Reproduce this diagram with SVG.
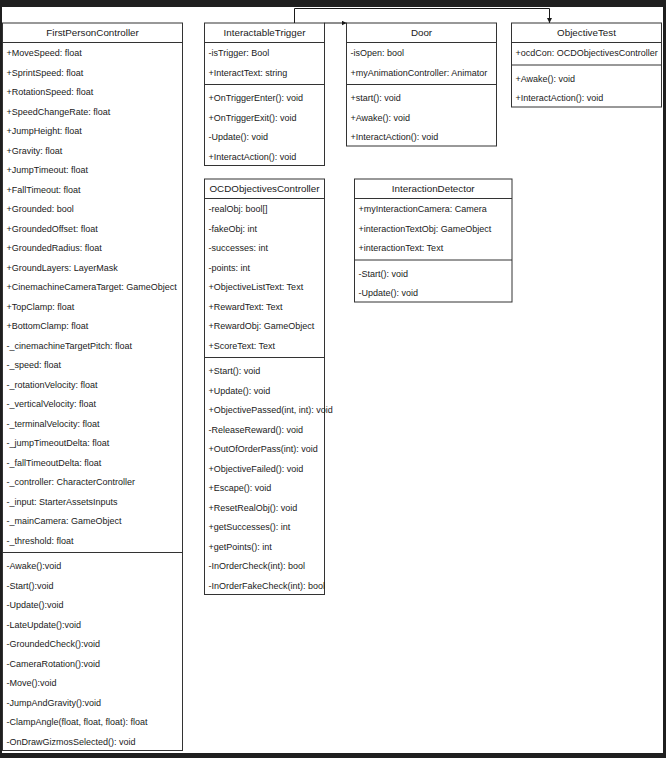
<svg xmlns="http://www.w3.org/2000/svg" width="666" height="758" viewBox="0 0 666 758">
  <style>
    .box { fill: #ffffff; stroke: #333333; stroke-width: 1; }
    .sep { stroke: #333333; stroke-width: 1; }
    .title { font-family: "Liberation Sans", Arial, sans-serif; font-size: 9.8px; fill: #1a1a1a; text-anchor: middle; }
    .row { font-family: "Liberation Sans", Arial, sans-serif; font-size: 9px; fill: #1a1a1a; }
    .edge { fill: none; stroke: #1a1a1a; stroke-width: 1; }
  </style>
  <defs>
    <marker id="arrow" viewBox="0 0 10 10" refX="10" refY="5" markerWidth="5" markerHeight="5" markerUnits="userSpaceOnUse" orient="auto">
      <path d="M0,0 L10,5 L0,10 Z" fill="#1a1a1a"/>
    </marker>
  </defs>

  <!-- canvas frame -->
  <rect x="0" y="0" width="666" height="758" fill="#1f1f1f"/>
  <rect x="2" y="7" width="661" height="746" fill="#ffffff"/>

  <!-- FirstPersonController -->
  <g id="FirstPersonController">
    <rect class="box" x="2.5" y="23" width="180" height="727.5"/>
    <line class="sep" x1="2.5" y1="42.5" x2="182.5" y2="42.5"/>
    <line class="sep" x1="2.5" y1="552.5" x2="182.5" y2="552.5"/>
    <text class="title" x="92.5" y="36.3">FirstPersonController</text>
    <text class="row" x="6.5" y="36.5">
      <tspan x="6.5" dy="19.5">+MoveSpeed: float</tspan>
      <tspan x="6.5" dy="19.5">+SprintSpeed: float</tspan>
      <tspan x="6.5" dy="19.5">+RotationSpeed: float</tspan>
      <tspan x="6.5" dy="19.5">+SpeedChangeRate: float</tspan>
      <tspan x="6.5" dy="19.5">+JumpHeight: float</tspan>
      <tspan x="6.5" dy="19.5">+Gravity: float</tspan>
      <tspan x="6.5" dy="19.5">+JumpTimeout: float</tspan>
      <tspan x="6.5" dy="19.5">+FallTimeout: float</tspan>
      <tspan x="6.5" dy="19.5">+Grounded: bool</tspan>
      <tspan x="6.5" dy="19.5">+GroundedOffset: float</tspan>
      <tspan x="6.5" dy="19.5">+GroundedRadius: float</tspan>
      <tspan x="6.5" dy="19.5">+GroundLayers: LayerMask</tspan>
      <tspan x="6.5" dy="19.5">+CinemachineCameraTarget: GameObject</tspan>
      <tspan x="6.5" dy="19.5">+TopClamp: float</tspan>
      <tspan x="6.5" dy="19.5">+BottomClamp: float</tspan>
      <tspan x="6.5" dy="19.5">-_cinemachineTargetPitch: float</tspan>
      <tspan x="6.5" dy="19.5">-_speed: float</tspan>
      <tspan x="6.5" dy="19.5">-_rotationVelocity: float</tspan>
      <tspan x="6.5" dy="19.5">-_verticalVelocity: float</tspan>
      <tspan x="6.5" dy="19.5">-_terminalVelocity: float</tspan>
      <tspan x="6.5" dy="19.5">-_jumpTimeoutDelta: float</tspan>
      <tspan x="6.5" dy="19.5">-_fallTimeoutDelta: float</tspan>
      <tspan x="6.5" dy="19.5">-_controller: CharacterController</tspan>
      <tspan x="6.5" dy="19.5">-_input: StarterAssetsInputs</tspan>
      <tspan x="6.5" dy="19.5">-_mainCamera: GameObject</tspan>
      <tspan x="6.5" dy="19.5">-_threshold: float</tspan>
    </text>
    <text class="row" x="6.5" y="549.5">
      <tspan x="6.5" dy="19.5">-Awake():void</tspan>
      <tspan x="6.5" dy="19.5">-Start():void</tspan>
      <tspan x="6.5" dy="19.5">-Update():void</tspan>
      <tspan x="6.5" dy="19.5">-LateUpdate():void</tspan>
      <tspan x="6.5" dy="19.5">-GroundedCheck():void</tspan>
      <tspan x="6.5" dy="19.5">-CameraRotation():void</tspan>
      <tspan x="6.5" dy="19.5">-Move():void</tspan>
      <tspan x="6.5" dy="19.5">-JumpAndGravity():void</tspan>
      <tspan x="6.5" dy="19.5">-ClampAngle(float, float, float): float</tspan>
      <tspan x="6.5" dy="19.5">-OnDrawGizmosSelected(): void</tspan>
    </text>
  </g>

  <!-- InteractableTrigger -->
  <g id="InteractableTrigger">
    <rect class="box" x="204.5" y="23" width="120" height="142.5"/>
    <line class="sep" x1="204.5" y1="42.5" x2="324.5" y2="42.5"/>
    <line class="sep" x1="204.5" y1="84.5" x2="324.5" y2="84.5"/>
    <text class="title" x="264.5" y="36.3">InteractableTrigger</text>
    <text class="row" x="208.5" y="36.5">
      <tspan x="208.5" dy="19.5">-isTrigger: Bool</tspan>
      <tspan x="208.5" dy="19.5">+InteractText: string</tspan>
    </text>
    <text class="row" x="208.5" y="81.5">
      <tspan x="208.5" dy="19.5">+OnTriggerEnter(): void</tspan>
      <tspan x="208.5" dy="19.5">+OnTriggerExit(): void</tspan>
      <tspan x="208.5" dy="19.5">-Update(): void</tspan>
      <tspan x="208.5" dy="19.5">+InteractAction(): void</tspan>
    </text>
  </g>

  <!-- Door -->
  <g id="Door">
    <rect class="box" x="346.5" y="23" width="150" height="123"/>
    <line class="sep" x1="346.5" y1="42.5" x2="496.5" y2="42.5"/>
    <line class="sep" x1="346.5" y1="84.5" x2="496.5" y2="84.5"/>
    <text class="title" x="421.5" y="36.3">Door</text>
    <text class="row" x="350.5" y="36.5">
      <tspan x="350.5" dy="19.5">-isOpen: bool</tspan>
      <tspan x="350.5" dy="19.5">+myAnimationController: Animator</tspan>
    </text>
    <text class="row" x="350.5" y="81.5">
      <tspan x="350.5" dy="19.5">+start(): void</tspan>
      <tspan x="350.5" dy="19.5">+Awake(): void</tspan>
      <tspan x="350.5" dy="19.5">+InteractAction(): void</tspan>
    </text>
  </g>

  <!-- ObjectiveTest -->
  <g id="ObjectiveTest">
    <rect class="box" x="511.5" y="23" width="150" height="84"/>
    <line class="sep" x1="511.5" y1="42.5" x2="661.5" y2="42.5"/>
    <line class="sep" x1="511.5" y1="65" x2="661.5" y2="65"/>
    <text class="title" x="586.5" y="36.3">ObjectiveTest</text>
    <text class="row" x="515.5" y="56">+ocdCon: OCDObjectivesController</text>
    <text class="row" x="515.5" y="62">
      <tspan x="515.5" dy="19.5">+Awake(): void</tspan>
      <tspan x="515.5" dy="19.5">+InteractAction(): void</tspan>
    </text>
  </g>

  <!-- OCDObjectivesController -->
  <g id="OCDObjectivesController">
    <rect class="box" x="204.5" y="179" width="120" height="415.5"/>
    <line class="sep" x1="204.5" y1="198.5" x2="324.5" y2="198.5"/>
    <line class="sep" x1="204.5" y1="357.5" x2="324.5" y2="357.5"/>
    <text class="title" x="264.5" y="192.3">OCDObjectivesController</text>
    <text class="row" x="208.5" y="192.5">
      <tspan x="208.5" dy="19.5">-realObj: bool[]</tspan>
      <tspan x="208.5" dy="19.5">-fakeObj: int</tspan>
      <tspan x="208.5" dy="19.5">-successes: int</tspan>
      <tspan x="208.5" dy="19.5">-points: int</tspan>
      <tspan x="208.5" dy="19.5">+ObjectiveListText: Text</tspan>
      <tspan x="208.5" dy="19.5">+RewardText: Text</tspan>
      <tspan x="208.5" dy="19.5">+RewardObj: GameObject</tspan>
      <tspan x="208.5" dy="19.5">+ScoreText: Text</tspan>
    </text>
    <text class="row" x="208.5" y="354.5">
      <tspan x="208.5" dy="19.5">+Start(): void</tspan>
      <tspan x="208.5" dy="19.5">+Update(): void</tspan>
      <tspan x="208.5" dy="19.5">+ObjectivePassed(int, int): void</tspan>
      <tspan x="208.5" dy="19.5">-ReleaseReward(): void</tspan>
      <tspan x="208.5" dy="19.5">+OutOfOrderPass(int): void</tspan>
      <tspan x="208.5" dy="19.5">+ObjectiveFailed(): void</tspan>
      <tspan x="208.5" dy="19.5">+Escape(): void</tspan>
      <tspan x="208.5" dy="19.5">+ResetRealObj(): void</tspan>
      <tspan x="208.5" dy="19.5">+getSuccesses(): int</tspan>
      <tspan x="208.5" dy="19.5">+getPoints(): int</tspan>
      <tspan x="208.5" dy="19.5">-InOrderCheck(int): bool</tspan>
      <tspan x="208.5" dy="19.5">-InOrderFakeCheck(int): bool</tspan>
    </text>
  </g>

  <!-- InteractionDetector -->
  <g id="InteractionDetector">
    <rect class="box" x="354.5" y="179" width="157.5" height="123"/>
    <line class="sep" x1="354.5" y1="198.5" x2="512" y2="198.5"/>
    <line class="sep" x1="354.5" y1="260" x2="512" y2="260"/>
    <text class="title" x="433.25" y="192.3">InteractionDetector</text>
    <text class="row" x="358.5" y="192.5">
      <tspan x="358.5" dy="19.5">+myInteractionCamera: Camera</tspan>
      <tspan x="358.5" dy="19.5">+interactionTextObj: GameObject</tspan>
      <tspan x="358.5" dy="19.5">+interactionText: Text</tspan>
    </text>
    <text class="row" x="358.5" y="257">
      <tspan x="358.5" dy="19.5">-Start(): void</tspan>
      <tspan x="358.5" dy="19.5">-Update(): void</tspan>
    </text>
  </g>

  <!-- connectors -->
  <g id="connectors">
    <path class="edge" d="M324.5,23 L346.5,23" marker-end="url(#arrow)"/>
    <path class="edge" d="M294.5,23 L294.5,8.5 L549.5,8.5 L549.5,23" marker-end="url(#arrow)"/>
  </g>
</svg>
